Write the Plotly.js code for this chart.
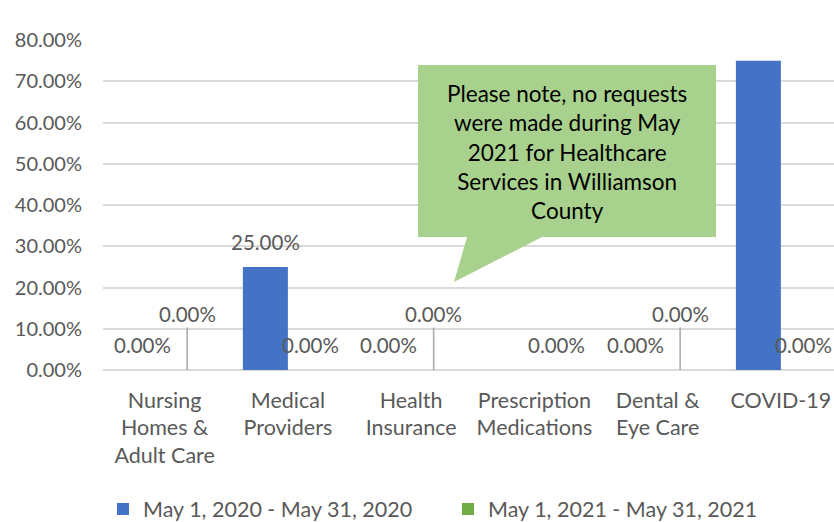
<!DOCTYPE html>
<html>
<head>
<meta charset="utf-8">
<script src="https://cdn.plot.ly/plotly-3.0.1.min.js"></script>
<style>html,body{margin:0;padding:0;background:#fff;}#chart{width:834px;height:522px;}</style>
</head>
<body>
<div id="chart"></div>
<script>
// ---- data ----
var categories = ["Nursing Homes & Adult Care", "Medical Providers", "Health Insurance", "Prescription Medications", "Dental & Eye Care", "COVID-19"];
var tickLabels = ["Nursing<br>Homes &<br>Adult Care", "Medical<br>Providers", "Health<br>Insurance", "Prescription<br>Medications", "Dental &<br>Eye Care", "COVID-19"];
var series2020Name = "May 1, 2020 - May 31, 2020";
var series2021Name = "May 1, 2021 - May 31, 2021";
var values2020 = [0, 0.25, 0, 0, 0, 0.75];
var values2021 = [0, 0, 0, 0, 0, 0];
// which data labels are shown, and which are lifted with a leader line
var show2020 = [true, true, true, false, true, false];
var show2021 = [true, true, true, true, true, true];
var leader2021 = [true, false, true, false, true, false];
var calloutText = "Please note, no requests<br>were made during May<br>2021 for Healthcare<br>Services in Williamson<br>County";

// ---- layout constants ----
var W = 834, H = 522;
var M = {l: 103, r: 0, t: 40, b: 152};
var pw = W - M.l - M.r, ph = H - M.t - M.b;
var catPx = 123.25;
var bargap = 0.27;
var barOff = (1 - bargap) / 4; // center offset of each bar in category units
var blue = "#4472C4", green = "#70AD47";
var txt = "#595959";
var FONT = "Lato, 'Open Sans', sans-serif";

function px(x){ return (x - M.l) / pw; }
function py(y){ return 1 - (y - M.t) / ph; }

var traces = [
  {type: "bar", x: categories, y: values2020, name: series2020Name, marker: {color: blue}, hoverinfo: "skip"},
  {type: "bar", x: categories, y: values2021, name: series2021Name, marker: {color: green}, hoverinfo: "skip"}
];

function fmt(v){ return (v * 100).toFixed(2) + "%"; }

var annotations = [];
var labelFont = {family: FONT, size: 20.5, color: txt};
for (var i = 0; i < categories.length; i++) {
  if (show2020[i]) {
    annotations.push({x: categories[i], y: values2020[i], xref: "x", yref: "y",
      xshift: -barOff * catPx, yshift: 25, text: fmt(values2020[i]), showarrow: false, font: labelFont});
  }
  if (show2021[i]) {
    if (leader2021[i]) {
      annotations.push({x: categories[i], y: values2021[i], xref: "x", yref: "y",
        xshift: barOff * catPx, text: fmt(values2021[i]), showarrow: true, arrowhead: 0,
        arrowcolor: "#a6a6a6", arrowwidth: 1.5, ax: 0, ay: -56, standoff: 0, font: labelFont});
    } else {
      annotations.push({x: categories[i], y: values2021[i], xref: "x", yref: "y",
        xshift: barOff * catPx, yshift: 25, text: fmt(values2021[i]), showarrow: false, font: labelFont});
    }
  }
}

// callout bubble
var cL = 418, cR = 716, cT = 65, cB = 237, tailA = 467, tailB = 542, tipX = 454, tipY = 282;
var path = "M" + px(cL) + "," + py(cT) + " L" + px(cR) + "," + py(cT) + " L" + px(cR) + "," + py(cB) +
  " L" + px(tailB) + "," + py(cB) + " L" + px(tipX) + "," + py(tipY) + " L" + px(tailA) + "," + py(cB) +
  " L" + px(cL) + "," + py(cB) + " Z";
var shapes = [{type: "path", xref: "paper", yref: "paper", path: path, fillcolor: "#A9D18E", line: {width: 0}, layer: "above"}];
annotations.push({xref: "paper", yref: "paper", x: px((cL + cR) / 2), y: py(152), text: calloutText,
  showarrow: false, font: {family: FONT, size: 22.5, color: "#000"}, align: "center"});

var layout = {
  width: W, height: H, margin: M,
  paper_bgcolor: "#fff", plot_bgcolor: "#fff",
  barmode: "group", bargap: bargap, bargroupgap: 0,
  showlegend: true,
  legend: {orientation: "h", xref: "container", yref: "container", x: 103 / W, xanchor: "left",
    y: 1 - 509 / H, yanchor: "middle", entrywidth: 300, entrywidthmode: "pixels",
    font: {family: FONT, size: 21.5, color: txt}},
  xaxis: {type: "category", range: [-0.5, -0.5 + pw / catPx], tickvals: categories, ticktext: tickLabels,
    tickfont: {family: FONT, size: 21.5, color: txt}, showgrid: false, showline: false, ticks: "",
    ticklabelstandoff: 15, automargin: false},
  yaxis: {range: [0, 0.8], dtick: 0.1, tickformat: ".2%", tickfont: {family: FONT, size: 20, color: txt},
    gridcolor: "#d9d9d9", gridwidth: 2, zeroline: true, zerolinecolor: "#d9d9d9", zerolinewidth: 2,
    showline: false, ticks: "", ticklabelstandoff: 20, automargin: false},
  annotations: annotations,
  shapes: shapes
};

Plotly.newPlot("chart", traces, layout, {displayModeBar: false, staticPlot: true});
</script>
</body>
</html>
